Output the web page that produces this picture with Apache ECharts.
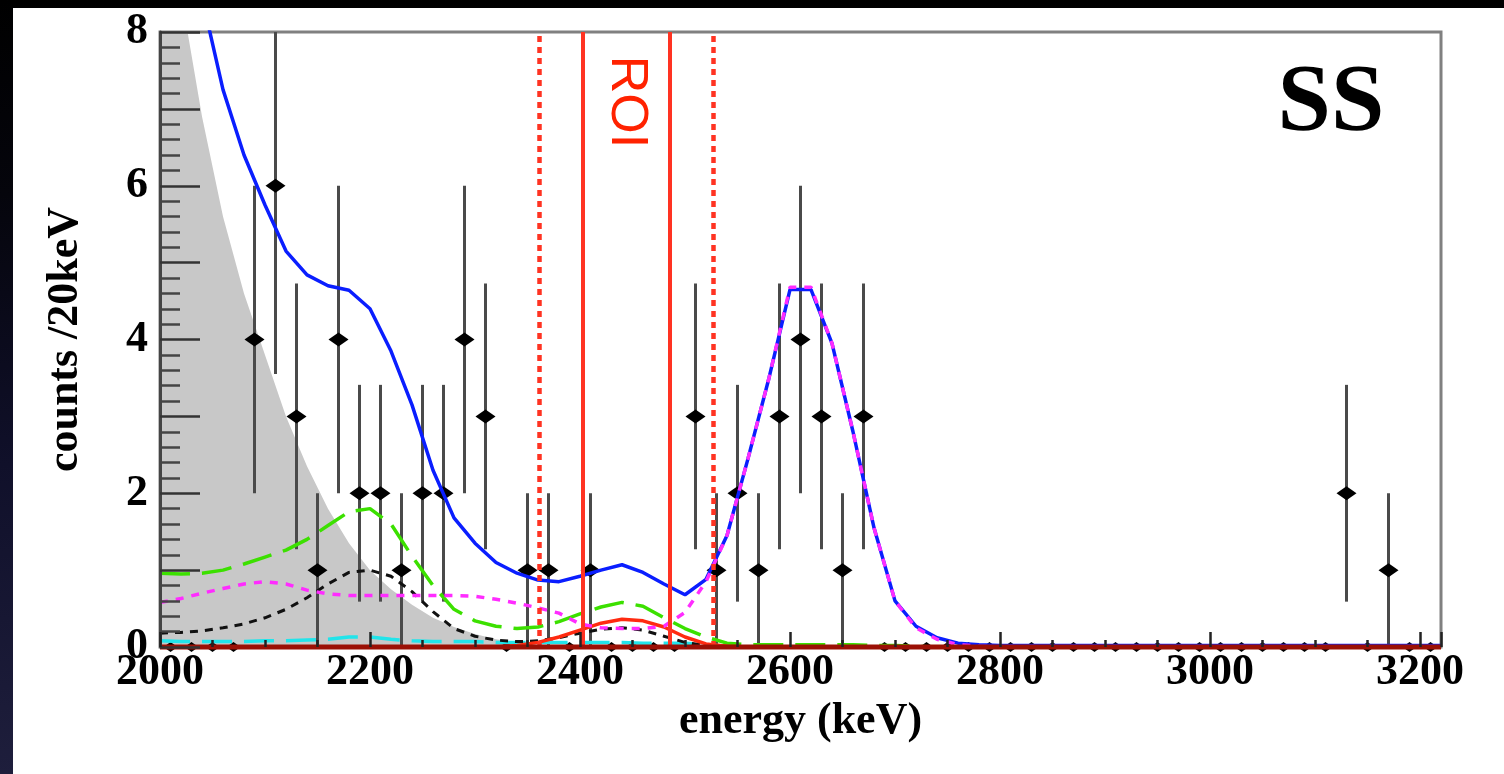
<!DOCTYPE html>
<html>
<head>
<meta charset="utf-8">
<script src="https://cdn.jsdelivr.net/npm/echarts@6.0.0/dist/echarts.min.js"></script>
<style>
  html, body {
    margin: 0;
    padding: 0;
    width: 1504px;
    height: 774px;
    overflow: hidden;
    background: linear-gradient(180deg, #000 0%, #05050c 25%, #10102a 60%, #1e1e3c 100%);
  }
  #chart {
    position: absolute;
    left: 13px;
    top: 8px;
    width: 1491px;
    height: 766px;
    background: #fff;
  }
</style>
</head>
<body>
<div id="chart"></div>
<script>
const SERIF = '"Liberation Serif", "Times New Roman", serif';

// fit curves, sampled every 20 keV (last point = right edge of the axis)
const fitEnergy = [
  2000, 2020, 2040, 2060, 2080, 2100, 2120, 2140, 2160, 2180,
  2200, 2220, 2240, 2260, 2280, 2300, 2320, 2340, 2360, 2380,
  2400, 2420, 2440, 2460, 2480, 2500, 2520, 2540, 2560, 2580,
  2600, 2620, 2640, 2660, 2680, 2700, 2720, 2740, 2760, 2780,
  2800, 3220,
];
const shadedBkg = [
  10.5, 8.5, 6.9, 5.6, 4.6, 3.8, 3.0, 2.35, 1.8, 1.35,
  1.0, 0.75, 0.55, 0.38, 0.26, 0.17, 0.1, 0.06, 0.03, 0.015,
  0.005, 0, 0, 0, 0, 0, 0, 0, 0, 0,
  0, 0, 0, 0, 0, 0, 0, 0, 0, 0,
  0, 0,
];
const totalFit = [
  11.3, 9.8, 8.45, 7.25, 6.4, 5.75, 5.15, 4.84, 4.7, 4.64,
  4.4, 3.85, 3.15, 2.3, 1.68, 1.35, 1.1, 0.96, 0.87, 0.85,
  0.92, 1.0, 1.07, 0.97, 0.82, 0.68, 0.88, 1.45, 2.45, 3.5,
  4.65, 4.65, 3.95, 2.8, 1.55, 0.6, 0.27, 0.12, 0.05, 0.03,
  0.02, 0.02,
];
const greenComp = [
  0.96, 0.95, 0.96, 1.0, 1.08, 1.17, 1.26, 1.4, 1.58, 1.76,
  1.8, 1.6, 1.18, 0.8, 0.49, 0.34, 0.27, 0.24, 0.26, 0.33,
  0.43, 0.52, 0.58, 0.53, 0.38, 0.24, 0.13, 0.05, 0.03, 0.03,
  0.03, 0.03, 0.03, 0.03, 0.02, 0.02, 0.01, 0, 0, 0,
  0, 0,
];
const magentaComp = [
  0.58, 0.63, 0.7, 0.76, 0.82, 0.85, 0.82, 0.74, 0.69, 0.67,
  0.67, 0.67, 0.67, 0.67, 0.67, 0.66, 0.62, 0.57, 0.51, 0.44,
  0.3, 0.25, 0.24, 0.24, 0.27, 0.45, 0.85, 1.45, 2.45, 3.5,
  4.68, 4.68, 3.95, 2.8, 1.55, 0.6, 0.25, 0.1, 0.03, 0.01,
  0, 0,
];
const blackComp = [
  0.18, 0.19, 0.21, 0.25, 0.3, 0.38, 0.49, 0.64, 0.82, 0.97,
  1.0, 0.92, 0.72, 0.46, 0.24, 0.14, 0.09, 0.07, 0.08, 0.12,
  0.18, 0.23, 0.25, 0.22, 0.14, 0.06, 0.02, 0.01, 0, 0,
  0, 0, 0, 0, 0, 0, 0, 0, 0, 0,
  0, 0,
];
const cyanComp = [
  0.08, 0.07, 0.07, 0.07, 0.07, 0.08, 0.08, 0.09, 0.1, 0.13,
  0.13, 0.1, 0.08, 0.07, 0.07, 0.07, 0.06, 0.06, 0.06, 0.06,
  0.06, 0.06, 0.06, 0.05, 0.05, 0.05, 0.03, 0.01, 0, 0,
  0, 0, 0, 0, 0, 0, 0, 0, 0, 0,
  0, 0,
];
const signalComp = [
  0, 0, 0, 0, 0, 0, 0, 0, 0, 0,
  0, 0, 0, 0, 0, 0, 0, 0.02, 0.06, 0.13,
  0.22, 0.31, 0.36, 0.34, 0.26, 0.13, 0.04, 0.01, 0, 0,
  0, 0, 0, 0, 0, 0, 0, 0, 0, 0,
  0, 0,
];

// measured spectrum: 20 keV bins
const binCentre = [
  2010, 2030, 2050, 2070, 2090, 2110, 2130, 2150, 2170, 2190,
  2210, 2230, 2250, 2270, 2290, 2310, 2330, 2350, 2370, 2390,
  2410, 2430, 2450, 2470, 2490, 2510, 2530, 2550, 2570, 2590,
  2610, 2630, 2650, 2670, 2690, 2710, 2730, 2750, 2770, 2790,
  2810, 2830, 2850, 2870, 2890, 2910, 2930, 2950, 2970, 2990,
  3010, 3030, 3050, 3070, 3090, 3110, 3130, 3150, 3170, 3190,
  3210,
];
const counts = [
  0, 0, 0, 0, 4, 6, 3, 1, 4, 2,
  2, 1, 2, 2, 4, 3, 0, 1, 1, 0,
  1, 0, 0, 0, 0, 3, 1, 2, 1, 3,
  4, 3, 1, 3, 0, 0, 0, 0, 0, 0,
  0, 0, 0, 0, 0, 0, 0, 0, 0, 0,
  0, 0, 0, 0, 0, 0, 2, 0, 1, 0,
  0,
];
const countErr = [
  0, 0, 0, 0, 2, 2.45, 1.73, 1, 2, 1.41,
  1.41, 1, 1.41, 1.41, 2, 1.73, 0, 1, 1, 0,
  1, 0, 0, 0, 0, 1.73, 1, 1.41, 1, 1.73,
  2, 1.73, 1, 1.73, 0, 0, 0, 0, 0, 0,
  0, 0, 0, 0, 0, 0, 0, 0, 0, 0,
  0, 0, 0, 0, 0, 0, 1.41, 0, 1, 0,
  0,
];

const roiSolid = [2403, 2485];
const roiDotted = [2361, 2527];

const pairs = (ys) => fitEnergy.map((e, i) => [e, ys[i]]);

const curve = (ys, color, width, dash) => ({
  type: "line",
  data: pairs(ys),
  symbol: "none",
  silent: true,
  z: 4,
  lineStyle: { color: color, width: width, type: dash || "solid" },
});

const points = binCentre.map((e, i) => [e, counts[i], countErr[i]]);

const chart = echarts.init(document.getElementById("chart"));

chart.setOption({
  animation: false,
  grid: {
    left: 147,
    top: 24,
    width: 1281,
    height: 615,
    show: true,
    borderColor: "#808080",
    borderWidth: 3,
  },
  xAxis: [
    {
      type: "value",
      position: "bottom",
      min: 2000,
      max: 3220,
      interval: 200,
      z: 6,
      name: "energy (keV)",
      nameLocation: "middle",
      nameGap: 50,
      nameTextStyle: { fontFamily: SERIF, fontSize: 44, fontWeight: "bold", color: "#000" },
      axisLine: { show: false },
      axisTick: { inside: true, length: 15, lineStyle: { color: "#222", width: 2.5 } },
      axisLabel: {
        fontFamily: SERIF,
        fontSize: 44,
        fontWeight: "bold",
        color: "#000",
        margin: 4,
        formatter: (v) => (v % 200 === 0 ? String(v) : ""),
      },
      splitLine: { show: false },
    },
    {
      // small 50 keV ticks (top axis shifted down onto the bottom edge)
      type: "value",
      position: "top",
      offset: -615,
      min: 2000,
      max: 3220,
      interval: 50,
      z: 6,
      axisLine: { show: false },
      axisTick: { inside: false, length: 7, lineStyle: { color: "#222", width: 2.5 } },
      axisLabel: { show: false },
      splitLine: { show: false },
    },
  ],
  yAxis: {
    type: "value",
    min: 0,
    max: 8,
    interval: 1,
    z: 6,
    name: "counts /20keV",
    nameLocation: "middle",
    nameGap: 72,
    nameTextStyle: { fontFamily: SERIF, fontSize: 44, fontWeight: "bold", color: "#000" },
    axisLine: { show: true, lineStyle: { color: "#444", width: 3 } },
    axisTick: { inside: true, length: 40, lineStyle: { color: "#333", width: 2.5 } },
    minorTick: { show: true, splitNumber: 5, length: 20, lineStyle: { color: "#444", width: 2.5 } },
    axisLabel: {
      fontFamily: SERIF,
      fontSize: 44,
      fontWeight: "bold",
      color: "#000",
      margin: 12,
      formatter: (v) => (v % 2 === 0 ? String(v) : ""),
    },
    splitLine: { show: false },
    minorSplitLine: { show: false },
  },
  graphic: [
    {
      type: "text",
      x: 1318,
      y: 97,
      z: 10,
      style: {
        text: "SS",
        font: "bold 96px " + SERIF,
        fill: "#000",
        align: "center",
        verticalAlign: "middle",
      },
    },
    {
      type: "text",
      x: 613,
      y: 94,
      z: 10,
      rotation: -Math.PI / 2,
      style: {
        text: "ROI",
        font: '52px "Liberation Sans", Arial, sans-serif',
        fill: "#ff2200",
        align: "center",
        verticalAlign: "middle",
      },
    },
  ],
  series: [
    {
      type: "line",
      data: pairs(shadedBkg),
      symbol: "none",
      silent: true,
      z: 1,
      lineStyle: { width: 0 },
      areaStyle: { color: "#c8c8c8", opacity: 1 },
    },
    {
      type: "custom",
      clip: true,
      silent: true,
      z: 3,
      data: points.filter((p) => p[1] > 0),
      encode: { x: 0, y: 1 },
      renderItem: (params, api) => {
        const x = api.value(0);
        const y = api.value(1);
        const e = api.value(2);
        const top = api.coord([x, y + e]);
        const bot = api.coord([x, y - e]);
        return {
          type: "line",
          shape: { x1: top[0], y1: top[1], x2: bot[0], y2: bot[1] },
          style: { stroke: "#4a4a4a", lineWidth: 3 },
        };
      },
    },
    {
      type: "custom",
      clip: false,
      silent: true,
      z: 3,
      data: points,
      encode: { x: 0, y: 1 },
      renderItem: (params, api) => {
        const p = api.coord([api.value(0), api.value(1)]);
        const w = api.value(1) > 0 ? 10 : 7;
        const h = api.value(1) > 0 ? 7 : 5;
        return {
          type: "polygon",
          shape: {
            points: [
              [p[0] - w, p[1]],
              [p[0], p[1] - h],
              [p[0] + w, p[1]],
              [p[0], p[1] + h],
            ],
          },
          style: { fill: "#000" },
        };
      },
    },
    curve(cyanComp, "#22e4ea", 3.5, [30, 12]),
    curve(blackComp, "#111", 3, [8, 7]),
    curve(greenComp, "#3ce000", 3.5, [30, 12]),
    curve(signalComp, "#ff2a10", 3.5),
    curve(totalFit, "#0a1eff", 3.5),
    curve(magentaComp, "#ff2cff", 3.5, [8, 8]),
    {
      type: "line",
      data: [[2000, 0], [3220, 0]],
      symbol: "none",
      silent: true,
      clip: false,
      z: 5,
      lineStyle: { color: "#9b1005", width: 5 },
      markLine: {
        silent: true,
        symbol: ["none", "none"],
        label: { show: false },
        lineStyle: { color: "#ff3322", width: 4 },
        data: roiSolid
          .map((v) => ({ xAxis: v, lineStyle: { type: "solid" } }))
          .concat(roiDotted.map((v) => ({ xAxis: v, lineStyle: { type: [6, 5], width: 4.5 } }))),
      },
    },
  ],
});
</script>
</body>
</html>
